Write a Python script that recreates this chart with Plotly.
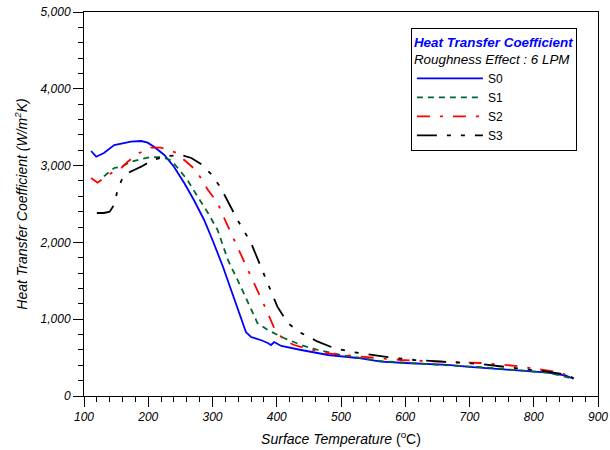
import plotly.graph_objects as go

s0_t = [111,119,131,147,162,173,189,199,209,225,240,256,271,287,300,316,329,347,352,360,375,386,391,396,407,438,480,526,562,600,666,700,769,800,822,850,862]
s0_h = [3190,3116,3164,3268,3294,3311,3320,3298,3246,3138,2986,2773,2552,2292,2031,1690,1380,950,833,768,729,690,664,703,651,599,534,495,447,430,404,380,339,322,304,265,225]

s1_t = [131,147,158,173,189,204,220,235,246,261,277,293,308,324,344,360,370,386,411,438,464,500,531,562,614,666,718,769,822,862]
s1_h = [2860,2969,2986,3051,3085,3111,3111,3072,2969,2812,2595,2383,2161,1771,1423,1120,950,859,755,664,599,534,495,455,425,404,375,339,304,225]

s2_t = [111,121,137,158,168,186,204,220,243,261,274,293,308,318,334,344,370,386,396,411,427,474,531,593,656,718,775,842,862]
s2_h = [2838,2777,2878,2969,3051,3164,3233,3233,3168,3033,2943,2682,2513,2318,2031,1836,1380,1081,885,729,664,560,512,469,447,430,390,304,230]

s3_t = [120,131,140,145,150,152,160,168,178,189,207,220,230,251,267,282,298,313,339,360,386,401,417,438,464,489,515,541,573,614,666,718,769,822,853,862]
s3_h = [2383,2383,2400,2465,2595,2682,2838,2903,2943,2986,3073,3099,3125,3138,3099,3020,2890,2708,2292,1992,1471,1163,950,820,707,625,577,547,505,469,443,417,365,317,273,230]

names = ["S0", "S1", "S2", "S3"]
colors = ["#0000FF", "#006633", "#FF0000", "#000000"]
dashes = ["solid", "6px,5px", "13px,10px,3px,10px", "20px,10px,4px,10px,4px,10px"]
series = [(s0_t, s0_h), (s1_t, s1_h), (s2_t, s2_h), (s3_t, s3_h)]

fig = go.Figure()
for (t, h), n, c, d in zip(series, names, colors, dashes):
    fig.add_trace(go.Scatter(x=t, y=h, mode="lines", name=n,
                             line=dict(color=c, width=1.8, dash=d)))

font_fam = "Liberation Sans, Arial, sans-serif"
axis_common = dict(showline=True, linecolor="black", linewidth=1, mirror=True,
                   showgrid=False, zeroline=False, ticks="outside", ticklen=10,
                   tickcolor="black", automargin=False,
                   tickfont=dict(family=font_fam, size=12, color="black", style="italic"))

fig.update_xaxes(range=[100, 900], dtick=100, tick0=100,
                 minor=dict(ticks="outside", ticklen=5, dtick=20, tickcolor="black"),
                 title=dict(text="<i>Surface Temperature</i> (<sup>o</sup>C)",
                            font=dict(family=font_fam, size=14, color="black"),
                            standoff=10),
                 **axis_common)
fig.update_yaxes(range=[0, 5000], dtick=1000, tickformat=",d",
                 minor=dict(ticks="outside", ticklen=5, dtick=200, tickcolor="black"),
                 title=dict(text="Heat Transfer Coefficient (W/m<sup>2</sup>K)",
                            font=dict(family=font_fam, size=14, color="black", style="italic"),
                            standoff=8),
                 **axis_common)

fig.update_layout(
    width=610, height=450,
    margin=dict(l=84, r=12, t=12, b=54),
    plot_bgcolor="white", paper_bgcolor="white",
    legend=dict(
        x=0.636, y=0.958, xanchor="left", yanchor="top",
        bgcolor="white", bordercolor="black", borderwidth=1,
        font=dict(family=font_fam, size=12, color="black"),
        tracegroupgap=0,
        itemwidth=66,
        title=dict(text="<b><i><span style='color:#0000FF'>Heat Transfer Coefficient</span></i></b><br><i>Roughness Effect : 6 LPM</i>",
                   font=dict(family=font_fam, size=13.4, color="black"), side="top"),
    ),
)

fig.write_html("out.html")
